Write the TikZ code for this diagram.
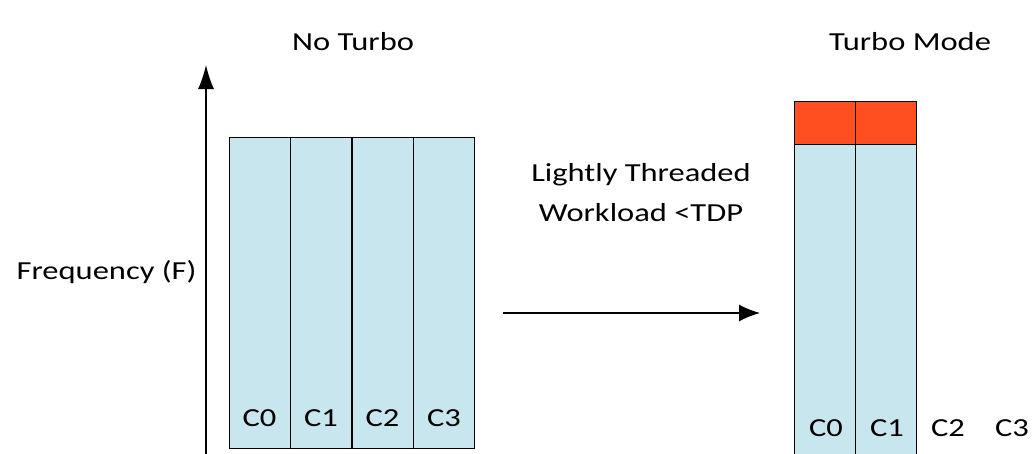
\documentclass[tikz,border=0pt]{standalone}
\usepackage{fontspec}
\setmainfont{Carlito}[FakeStretch=1.25]
\usetikzlibrary{arrows.meta}
\definecolor{coreblue}{RGB}{200,230,238}
\definecolor{turbored}{RGB}{255,78,32}
\begin{document}
\begin{tikzpicture}[x=1pt,y=-1pt,>=latex,font=\fontsize{26}{40}\selectfont]
  \tikzstyle{core}=[draw, line width=1pt, fill=coreblue, minimum width=61pt, inner sep=0pt, outer sep=0pt]
  \tikzstyle{turbo}=[core, fill=turbored]
  \tikzstyle{arrow}=[-{Latex[length=21pt,width=17pt]}, line width=1.2pt]
  \useasboundingbox (0,0) rectangle (1034,453);

  % no turbo: four cores
  \node[core, minimum height=311pt] (n0) at (259.5,292.5) {};
  \node[core, minimum height=311pt] (n1) at (321,292.5) {};
  \node[core, minimum height=311pt] (n2) at (382.5,292.5) {};
  \node[core, minimum height=311pt] (n3) at (444,292.5) {};

  \node (nc0) at (259.5,418) {C0};
  \node (nc1) at (321,418) {C1};
  \node (nc2) at (382.5,418) {C2};
  \node (nc3) at (444,418) {C3};

  % turbo mode: two cores raised
  \node[core, minimum height=314pt] (t0) at (825,301) {};
  \node[core, minimum height=314pt] (t1) at (886,301) {};
  \node[turbo, minimum height=43pt] (b0) at (825,122.5) {};
  \node[turbo, minimum height=43pt] (b1) at (886,122.5) {};

  \node (tc0) at (826,428) {C0};
  \node (tc1) at (887,428) {C1};
  \node (tc2) at (948,428) {C2};
  \node (tc3) at (1012,428) {C3};

  \node (notitle) at (353,42) {No Turbo};
  \node (ttitle) at (910,42) {Turbo Mode};
  \node[anchor=east] (freq) at (200,272) {Frequency (F)};
  \node[align=center] (load) at (641,193) {Lightly Threaded\\Workload <TDP};

  \coordinate (fbot) at (206,456);
  \coordinate (ftop) at (206,65);
  \coordinate (ws) at (503,313);
  \coordinate (we) at (760,313);

  \draw[arrow, -{Latex[length=24pt,width=16pt]}] (fbot) -- (ftop);
  \draw[arrow] (ws) -- (we);
\end{tikzpicture}
\end{document}
